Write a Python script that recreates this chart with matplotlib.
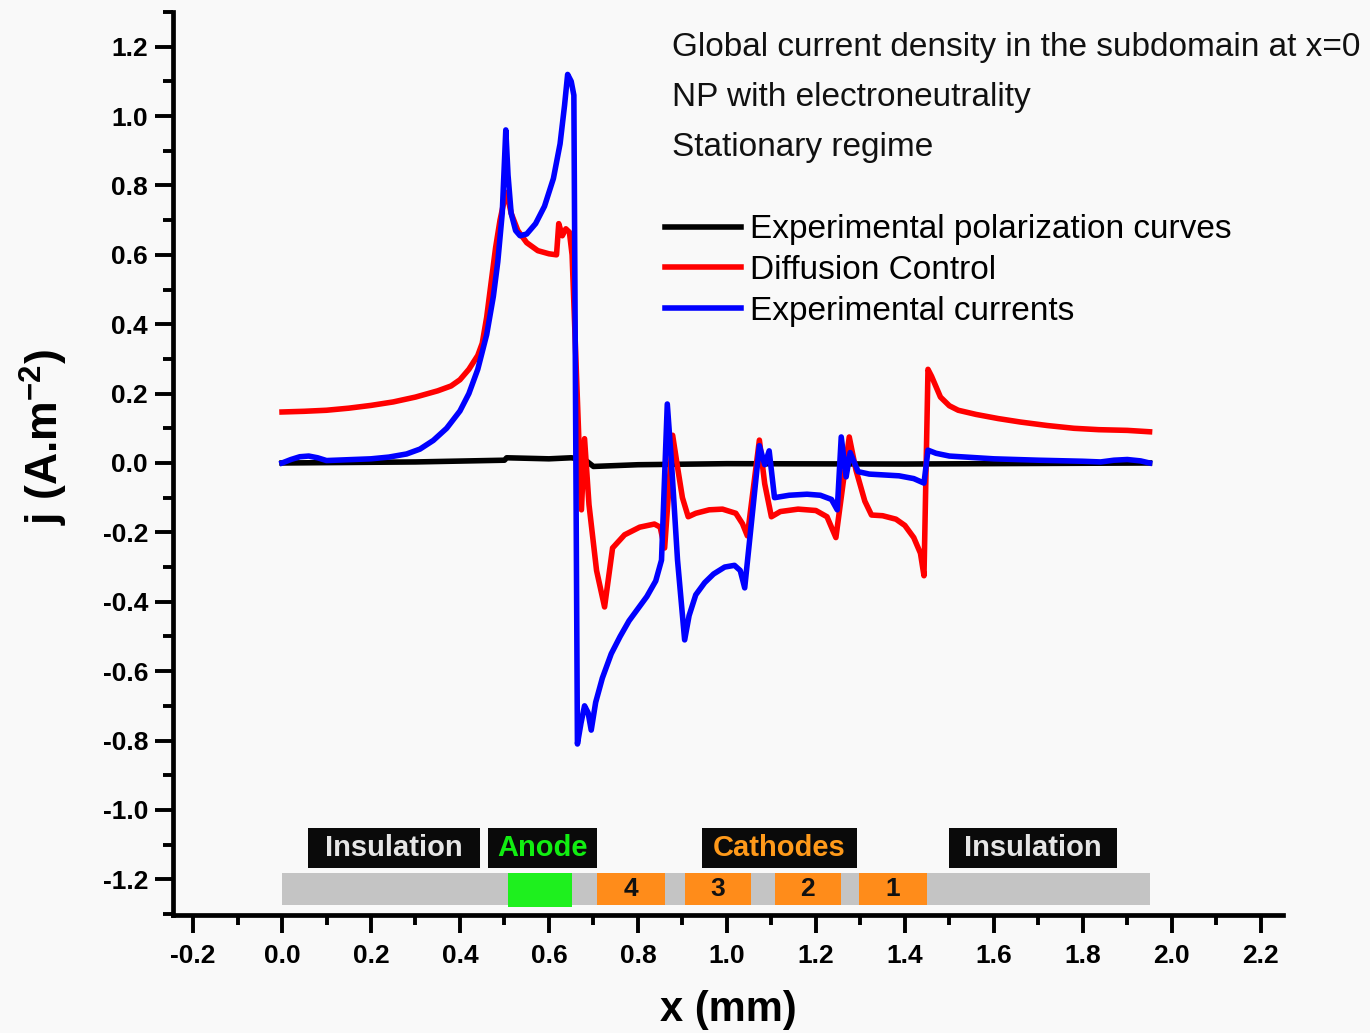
import matplotlib
matplotlib.use('Agg')
import matplotlib.pyplot as plt
from matplotlib.patches import Rectangle
from matplotlib.ticker import MultipleLocator

SANS = ['Liberation Sans', 'DejaVu Sans']
plt.rcParams['font.family'] = SANS
plt.rcParams['mathtext.fontset'] = 'custom'
plt.rcParams['mathtext.rm'] = 'Liberation Sans'
plt.rcParams['mathtext.bf'] = 'Liberation Sans:bold'

# Experimental polarization curves (black)
x_black = [0.0, 0.3, 0.5, 0.505, 0.6, 0.65, 0.68, 0.70, 0.8, 1.0, 1.4, 1.95]
j_black = [0.0, 0.003, 0.008, 0.015, 0.012, 0.015, 0.01, -0.01, -0.005, -0.002, -0.003, 0.0]

# Diffusion Control (red)
x_red = [0.0, 0.05, 0.1, 0.15, 0.2, 0.25, 0.3, 0.35, 0.38, 0.4, 0.42, 0.44, 0.45,
         0.46, 0.47, 0.48, 0.49, 0.50, 0.505, 0.515, 0.53, 0.55, 0.575, 0.6, 0.617,
         0.622, 0.63, 0.638, 0.646, 0.652, 0.673, 0.68, 0.69, 0.707, 0.725, 0.743,
         0.77, 0.804, 0.837, 0.85, 0.86, 0.878, 0.89, 0.9, 0.913, 0.93, 0.96, 0.99,
         1.02, 1.035, 1.046, 1.073, 1.085, 1.1, 1.12, 1.16, 1.2, 1.225, 1.245, 1.275,
         1.29, 1.31, 1.325, 1.35, 1.38, 1.40, 1.42, 1.435, 1.443, 1.452, 1.46, 1.48,
         1.5, 1.52, 1.56, 1.61, 1.66, 1.72, 1.78, 1.836, 1.9, 1.95]
j_red = [0.147, 0.149, 0.152, 0.158, 0.166, 0.176, 0.19, 0.208, 0.222, 0.24, 0.27, 0.31, 0.345,
         0.42, 0.52, 0.62, 0.70, 0.76, 0.78, 0.72, 0.67, 0.635, 0.612, 0.603, 0.60,
         0.69, 0.655, 0.675, 0.665, 0.6, -0.135, 0.07, -0.12, -0.31, -0.415, -0.245,
         -0.207, -0.185, -0.176, -0.185, -0.245, 0.08, -0.02, -0.1, -0.155, -0.145, -0.135, -0.133,
         -0.145, -0.175, -0.21, 0.066, -0.06, -0.155, -0.14, -0.133, -0.137, -0.155, -0.215, 0.075,
         -0.02, -0.11, -0.15, -0.152, -0.162, -0.18, -0.215, -0.26, -0.325, 0.27, 0.25, 0.19,
         0.165, 0.152, 0.14, 0.128, 0.118, 0.108, 0.1, 0.096, 0.094, 0.09]

# Experimental currents (blue)
x_blue = [0.0, 0.02, 0.04, 0.06, 0.08, 0.1, 0.12, 0.16, 0.2, 0.24, 0.28, 0.31, 0.34,
          0.37, 0.4, 0.42, 0.44, 0.46, 0.475, 0.485, 0.495, 0.503, 0.508, 0.515, 0.525,
          0.535, 0.55, 0.57, 0.59, 0.61, 0.625, 0.635, 0.642, 0.65, 0.656, 0.664, 0.672,
          0.68, 0.688, 0.695, 0.705, 0.72, 0.74, 0.76, 0.78, 0.80, 0.82, 0.84, 0.853,
          0.866, 0.875, 0.889, 0.905, 0.915, 0.93, 0.95, 0.97, 0.995, 1.017, 1.03, 1.04,
          1.073, 1.085, 1.095, 1.107, 1.14, 1.18, 1.21, 1.235, 1.248, 1.257, 1.268, 1.277,
          1.295, 1.32, 1.387, 1.42, 1.443, 1.452, 1.47, 1.5, 1.6, 1.7, 1.8, 1.84, 1.87,
          1.9, 1.93, 1.95]
j_blue = [0.0, 0.01, 0.018, 0.02, 0.015, 0.007, 0.008, 0.01, 0.012, 0.017, 0.026, 0.04, 0.065,
          0.1, 0.15, 0.2, 0.27, 0.37, 0.48, 0.58, 0.72, 0.96, 0.83, 0.72, 0.67,
          0.655, 0.66, 0.69, 0.74, 0.82, 0.92, 1.03, 1.12, 1.10, 1.06, -0.81, -0.75,
          -0.70, -0.72, -0.77, -0.69, -0.62, -0.55, -0.5, -0.455, -0.42, -0.385, -0.34, -0.28,
          0.17, 0.01, -0.28, -0.51, -0.44, -0.38, -0.345, -0.32, -0.3, -0.295, -0.31, -0.36,
          0.05, -0.005, 0.035, -0.1, -0.093, -0.09, -0.093, -0.105, -0.135, 0.075, -0.04, 0.03,
          -0.025, -0.032, -0.037, -0.045, -0.058, 0.037, 0.028, 0.02, 0.012, 0.008, 0.005, 0.003, 0.008,
          0.01, 0.006, 0.0]

series_names = ['Experimental polarization curves', 'Diffusion Control', 'Experimental currents']

notes = ['Global current density in the subdomain at x=0',
         'NP with electroneutrality',
         'Stationary regime']

# electrode strip along the bottom (x in mm)
strip = (0.0, 1.95)
anode = (0.507, 0.651)
cathodes = [('4', 0.709, 0.86), ('3', 0.905, 1.055), ('2', 1.107, 1.257), ('1', 1.297, 1.45)]
region_labels = [('Insulation', 0.058, 0.444, '#e6e6e6'),
                 ('Anode', 0.462, 0.707, '#11ee11'),
                 ('Cathodes', 0.943, 1.293, '#ff9a1a'),
                 ('Insulation', 1.50, 1.877, '#e6e6e6')]

fig = plt.figure(figsize=(13.7, 10.33), dpi=100, facecolor='#f9f9f9')
ax = fig.add_axes([0.1263, 0.1142, 0.8102, 0.8742])
ax.set_facecolor('#f9f9f9')

lw = 4.0
ax.plot(x_black, j_black, color='black', lw=lw, label=series_names[0], zorder=3)
ax.plot(x_red, j_red, color='#ff0000', lw=lw, label=series_names[1], zorder=4)
ax.plot(x_blue, j_blue, color='#0000ff', lw=lw, label=series_names[2], zorder=5)

# electrode strip
y0, y1 = -1.274, -1.182
ax.add_patch(Rectangle((strip[0], y0), strip[1] - strip[0], y1 - y0, color='#c4c4c4', lw=0, zorder=2))
ax.add_patch(Rectangle((anode[0], y0 - 0.005), anode[1] - anode[0], y1 - y0 + 0.005, color='#1ef01e', lw=0, zorder=2))
for num, a, b in cathodes:
    ax.add_patch(Rectangle((a, y0), b - a, y1 - y0, color='#ff8c1a', lw=0, zorder=2))
    ax.text((a + b) / 2, (y0 + y1) / 2, num, ha='center', va='center', fontsize=19,
            fontweight='bold', color='#111111', zorder=3)

ly0, ly1 = -1.167, -1.052
for name, a, b, col in region_labels:
    ax.add_patch(Rectangle((a, ly0), b - a, ly1 - ly0, color='#0a0a0a', lw=0, zorder=2))
    ax.text((a + b) / 2, (ly0 + ly1) / 2, name, ha='center', va='center', fontsize=21,
            fontweight='bold', color=col, zorder=3)

# notes top right
for i, t in enumerate(notes):
    ax.text(0.4495, 0.961 - i * 0.0554, t, transform=ax.transAxes, ha='left', va='center',
            fontsize=24, color='#111111')

leg = ax.legend(loc='upper left', bbox_to_anchor=(0.443, 0.776), frameon=False,
                prop={'size': 24}, handlelength=2.3, handletextpad=0.25,
                labelspacing=0.29, borderaxespad=0, borderpad=0)

ax.set_xlim(-0.245, 2.25)
ax.set_ylim(-1.303, 1.30)
ax.xaxis.set_major_locator(MultipleLocator(0.2))
ax.xaxis.set_minor_locator(MultipleLocator(0.1))
ax.yaxis.set_major_locator(MultipleLocator(0.2))
ax.yaxis.set_minor_locator(MultipleLocator(0.1))

for s in ['top', 'right']:
    ax.spines[s].set_visible(False)
for s in ['left', 'bottom']:
    ax.spines[s].set_linewidth(3.4)

ax.tick_params(which='major', direction='out', length=13, width=2.8)
ax.tick_params(which='minor', direction='out', length=7.5, width=2.8)
ax.tick_params(axis='y', pad=5)
ax.tick_params(axis='x', pad=8)

ax.set_xticklabels([f'{v:.1f}' for v in ax.get_xticks()])
ax.set_yticklabels([f'{v:.1f}' for v in ax.get_yticks()])
for lab in ax.get_xticklabels():
    lab.set_fontweight('bold')
    lab.set_fontsize(19)
for lab in ax.get_yticklabels():
    lab.set_fontweight('bold')
    lab.set_fontsize(19)

ax.set_xlabel('x (mm)', fontweight='bold', fontsize=30)
ax.xaxis.set_label_coords(0.5, -0.083)
ax.set_ylabel(r'j (A.m$^{\mathbf{-2}}$)', fontweight='bold', fontsize=32)
ax.yaxis.set_label_coords(-0.093, 0.529)

fig.savefig('out.png', dpi=100, facecolor=fig.get_facecolor())
